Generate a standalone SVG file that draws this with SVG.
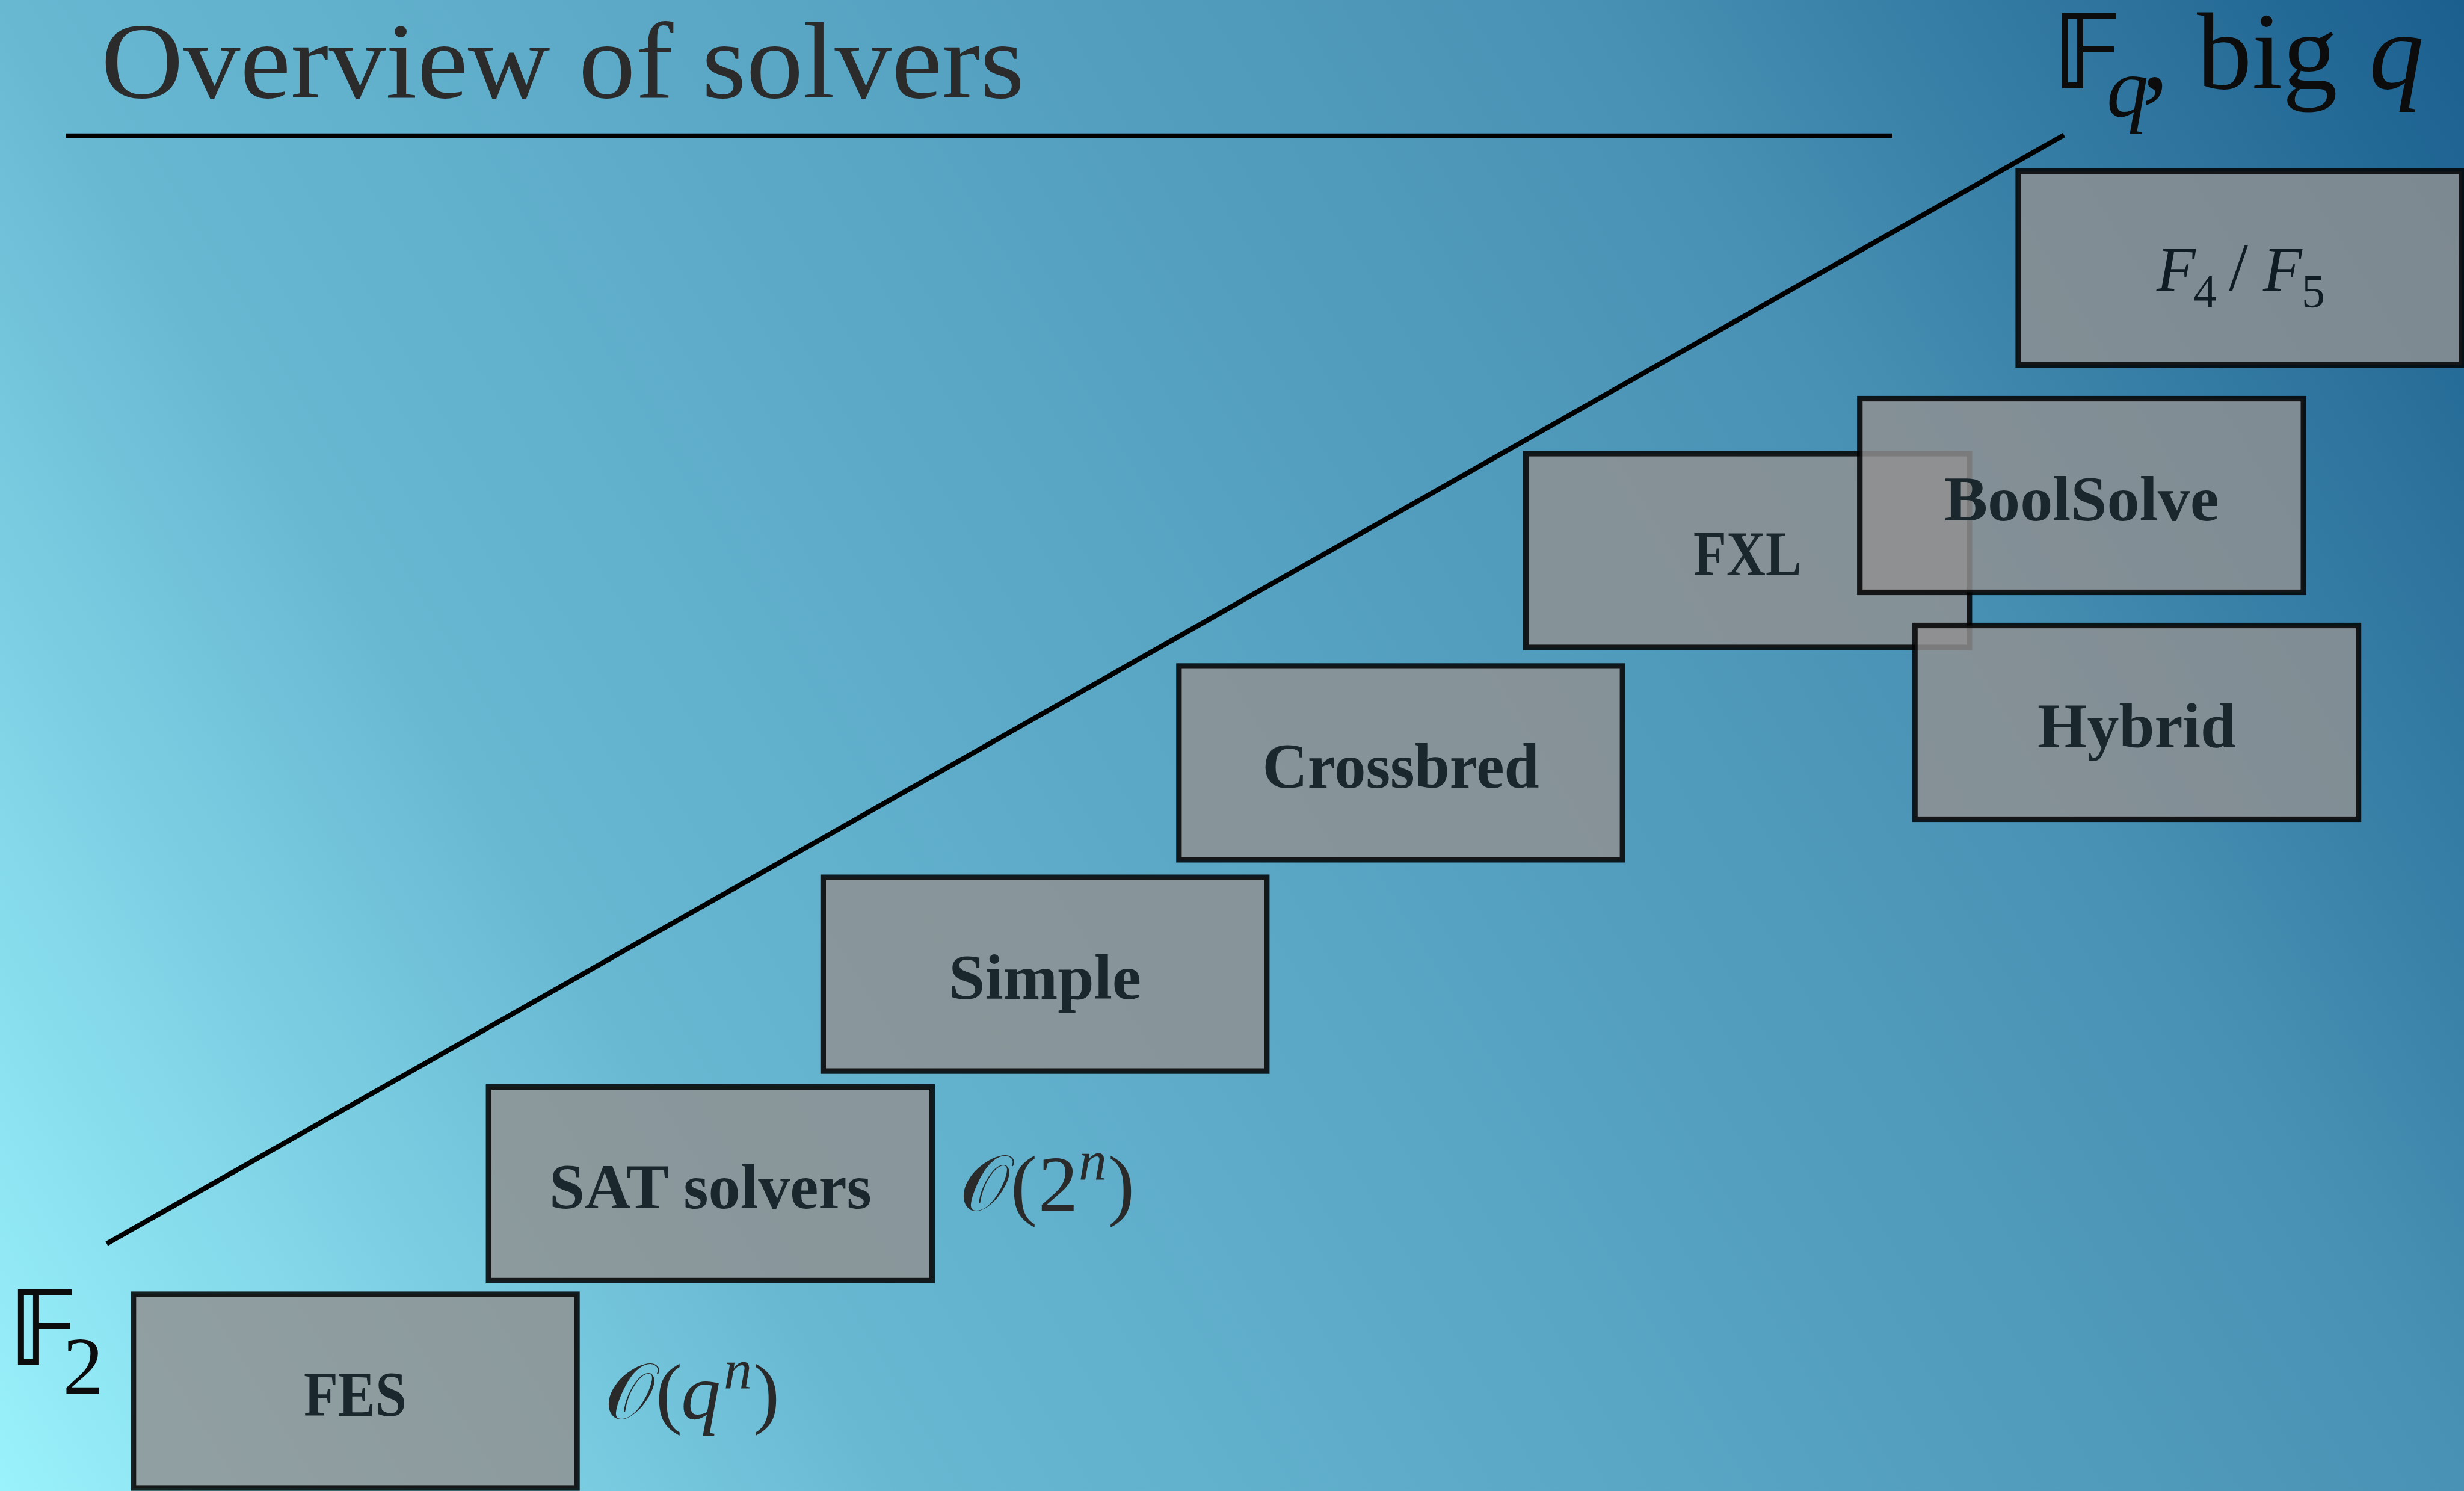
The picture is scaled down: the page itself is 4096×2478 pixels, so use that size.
<svg xmlns="http://www.w3.org/2000/svg" width="4096" height="2478" viewBox="0 0 4096 2478">
<defs>
<linearGradient id="bg" gradientUnits="userSpaceOnUse" x1="0" y1="2478" x2="4096" y2="0">
<stop offset="0" stop-color="#9af2fc"/>
<stop offset="0.268" stop-color="#68b8d2"/>
<stop offset="0.5" stop-color="#58a5c4"/>
<stop offset="0.732" stop-color="#4a92b5"/>
<stop offset="1" stop-color="#1a5f8e"/>
</linearGradient>
<style>
.box rect { fill:#909090; fill-opacity:0.83; stroke:#000; stroke-opacity:0.85; stroke-width:9.2; }
.lbl { font-family:"Liberation Serif",serif; font-weight:bold; font-size:106px; fill:#1a272c; text-anchor:middle; }
.math { font-family:"Liberation Serif",serif; font-size:132px; fill:#2a2a2a; }
.it { font-style:italic; }
.ds { font-family:"DejaVu Sans","DejaVu Serif",sans-serif; font-weight:bold; }
.cal { font-family:"DejaVu Serif","DejaVu Sans",serif; }
.rule { stroke:#000; fill:none; stroke-linecap:butt; }
</style>
</defs>
<rect x="0" y="0" width="4096" height="2478" fill="url(#bg)"/>

<g id="title">
<text x="168" y="162" font-family="Liberation Serif, serif" font-size="180" fill="#2b2b2b" textLength="1535" lengthAdjust="spacingAndGlyphs">Overview of solvers</text>
<line class="rule" x1="109" y1="225.5" x2="3145" y2="225.5" stroke-width="7.7"/>
</g>

<g id="axis">
<line class="rule" x1="177.4" y1="2067" x2="3431" y2="224.5" stroke-width="8.3"/>
</g>

<g id="label-fq" fill="#0c0c0c" font-family="Liberation Serif, serif">
<text x="3415" y="147" class="ds" font-size="171">𝔽</text>
<text x="3502" y="193" font-size="139" font-style="italic">q</text>
<text x="3560" y="147" font-size="183">,</text>
<text x="3652" y="147" font-size="183">big</text>
<text x="3938" y="147" font-size="183" font-style="italic">q</text>
</g>

<g id="label-f2" fill="#0c0c0c" font-family="Liberation Serif, serif">
<text x="17" y="2268" class="ds" font-size="171">𝔽</text>
<text x="104.5" y="2315.5" font-size="135">2</text>
</g>

<g id="node-f4f5" class="box">
<rect x="3355" y="284.6" width="737.4" height="322"/>
<text font-family="Liberation Serif, serif" fill="#0f1c24" font-size="106">
<tspan x="3585" y="483" font-style="italic">F</tspan><tspan x="3646" y="510" font-size="78">4</tspan><tspan x="3705" y="483" font-size="115">/</tspan><tspan x="3762" y="483" font-style="italic">F</tspan><tspan x="3826" y="510" font-size="78">5</tspan>
</text>
</g>

<g id="node-fes" class="box">
<rect x="221.7" y="2151" width="737.4" height="322"/>
<text class="lbl" x="590.4" y="2353" textLength="171" lengthAdjust="spacingAndGlyphs">FES</text>
</g>

<g id="node-sat" class="box">
<rect x="812.2" y="1806.4" width="737.4" height="322"/>
<text class="lbl" x="1180.9" y="2008.4" textLength="536" lengthAdjust="spacingAndGlyphs">SAT solvers</text>
</g>

<g id="node-simple" class="box">
<rect x="1368.4" y="1458.1" width="737.4" height="322"/>
<text class="lbl" x="1737.1" y="1660.1" textLength="320" lengthAdjust="spacingAndGlyphs">Simple</text>
</g>

<g id="node-crossbred" class="box">
<rect x="1959.8" y="1106.9" width="737.4" height="322"/>
<text class="lbl" x="2328.5" y="1308.9" textLength="460" lengthAdjust="spacingAndGlyphs">Crossbred</text>
</g>

<g id="node-fxl" class="box">
<rect x="2536.4" y="754" width="737.4" height="322"/>
<text class="lbl" x="2905.1" y="956" textLength="180" lengthAdjust="spacingAndGlyphs">FXL</text>
</g>

<g id="node-boolsolve" class="box">
<rect x="3091.7" y="662.5" width="737.4" height="322"/>
<text class="lbl" x="3460.4" y="864.5" textLength="457" lengthAdjust="spacingAndGlyphs">BoolSolve</text>
</g>

<g id="node-hybrid" class="box">
<rect x="3183.2" y="1039.5" width="737.4" height="322"/>
<text class="lbl" x="3551.9" y="1241.5" textLength="330" lengthAdjust="spacingAndGlyphs">Hybrid</text>
</g>

<g id="label-o2n" class="math">
<text y="2011.5"><tspan x="1595" class="cal">𝒪</tspan><tspan x="1680">(</tspan><tspan x="1726">2</tspan><tspan x="1793" y="1961" class="it" font-size="94">n</tspan><tspan x="1842" y="2011.5">)</tspan></text>
</g>

<g id="label-oqn" class="math">
<text y="2358"><tspan x="1005" class="cal">𝒪</tspan><tspan x="1090">(</tspan><tspan x="1132" class="it">q</tspan><tspan x="1203" y="2307.5" class="it" font-size="94">n</tspan><tspan x="1252" y="2358">)</tspan></text>
</g>
</svg>
